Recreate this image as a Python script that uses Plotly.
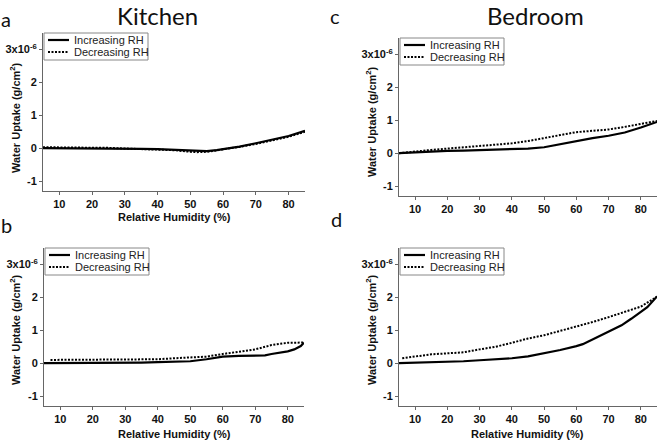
import plotly.graph_objects as go
from plotly.subplots import make_subplots

# dados (valores em unidades de 1e-6 g/cm2)
rh_a = [5, 10, 15, 20, 25, 30, 35, 40, 45, 50, 52, 55, 58, 60, 62, 65, 70, 75, 80, 85]
kitchen_a_inc = [0, 0, 0, 0, 0, -0.01, -0.02, -0.03, -0.05, -0.09, -0.1, -0.09, -0.06, -0.03, 0, 0.05, 0.15, 0.25, 0.37, 0.53]
kitchen_a_dec = [0.03, 0.03, 0.02, 0.02, 0.01, -0.01, -0.02, -0.03, -0.06, -0.11, -0.12, -0.11, -0.07, -0.04, -0.01, 0.04, 0.13, 0.23, 0.35, 0.5]

rh_b_inc = [5, 10, 15, 20, 25, 30, 35, 40, 45, 50, 55, 60, 65, 70, 73, 75, 78, 80, 82, 84, 85]
kitchen_b_inc = [0, 0, 0.01, 0.01, 0.01, 0.01, 0.02, 0.03, 0.04, 0.06, 0.12, 0.2, 0.22, 0.23, 0.24, 0.28, 0.32, 0.36, 0.42, 0.52, 0.62]
rh_b_dec = [7, 10, 15, 20, 25, 30, 35, 40, 45, 50, 55, 60, 65, 70, 75, 78, 80, 82, 84, 85]
kitchen_b_dec = [0.1, 0.1, 0.1, 0.1, 0.1, 0.1, 0.1, 0.12, 0.15, 0.18, 0.2, 0.28, 0.35, 0.42, 0.55, 0.6, 0.62, 0.62, 0.62, 0.63]

rh_c = [5, 10, 15, 20, 25, 30, 35, 40, 45, 50, 55, 60, 65, 70, 75, 80, 85]
bedroom_c_inc = [0, 0.03, 0.05, 0.07, 0.08, 0.09, 0.1, 0.12, 0.14, 0.18, 0.27, 0.38, 0.46, 0.53, 0.63, 0.78, 0.95]
bedroom_c_dec = [0, 0.06, 0.1, 0.14, 0.18, 0.21, 0.25, 0.3, 0.37, 0.45, 0.55, 0.64, 0.68, 0.72, 0.8, 0.88, 0.98]

rh_d_inc = [5, 10, 15, 20, 25, 30, 35, 40, 45, 50, 55, 60, 62, 65, 70, 74, 77, 80, 82, 85]
bedroom_d_inc = [0, 0.01, 0.02, 0.04, 0.06, 0.09, 0.12, 0.15, 0.21, 0.3, 0.4, 0.52, 0.58, 0.72, 0.96, 1.15, 1.35, 1.55, 1.7, 2.03]
rh_d_dec = [6, 10, 15, 20, 25, 30, 35, 40, 45, 50, 55, 60, 65, 70, 75, 80, 85]
bedroom_d_dec = [0.15, 0.2, 0.27, 0.3, 0.33, 0.42, 0.5, 0.62, 0.75, 0.85, 0.98, 1.12, 1.25, 1.4, 1.55, 1.72, 2.02]

y_ticks = [-1, 0, 1, 2, 3]
y_labels = ['-1', '0', '1', '2', '3x10<sup>-6</sup>']
x_ticks = [10, 20, 30, 40, 50, 60, 70, 80]
series_names = ['Increasing RH', 'Decreasing RH']

FONT = 'Liberation Sans, Arial, sans-serif'
TFONT = 'Lato, Open Sans, sans-serif'
GREY = '#666666'
W, H = 658, 442


def px(x):
    return x / W


def py(y):
    return 1 - y / H


fig = make_subplots(rows=2, cols=2)

# posições de cada painel em pixels: (esq, dir, topo, base)
boxes = {
    (1, 1): (43, 305, 33, 191),
    (1, 2): (399, 657, 38, 196),
    (2, 1): (44, 304, 248, 406),
    (2, 2): (399, 657, 248, 406),
}

panels = [
    (1, 1, rh_a, kitchen_a_inc, rh_a, kitchen_a_dec),
    (1, 2, rh_c, bedroom_c_inc, rh_c, bedroom_c_dec),
    (2, 1, rh_b_inc, kitchen_b_inc, rh_b_dec, kitchen_b_dec),
    (2, 2, rh_d_inc, bedroom_d_inc, rh_d_dec, bedroom_d_dec),
]

solid = dict(color='black', width=2.2)
dotted = dict(color='black', width=2, dash='2px,1.5px')

for r, c, xi, yi, xd, yd in panels:
    fig.add_trace(go.Scatter(x=xi, y=yi, mode='lines', name=series_names[0],
                             line=solid, showlegend=False), row=r, col=c)
    fig.add_trace(go.Scatter(x=xd, y=yd, mode='lines', name=series_names[1],
                             line=dotted, showlegend=False), row=r, col=c)
    x0, x1, y0, y1 = boxes[(r, c)]
    fig.update_xaxes(domain=[px(x0), px(x1)], range=[5, 85], tickvals=x_ticks,
                     showline=True, linecolor=GREY, linewidth=1,
                     ticks='outside', ticklen=3, tickcolor=GREY, showgrid=False,
                     zeroline=False,
                     tickfont=dict(family=FONT, size=11, color='#111', weight='bold'),
                     row=r, col=c)
    fig.update_yaxes(domain=[py(y1), py(y0)], range=[-1.3, 3.5], tickvals=y_ticks,
                     ticktext=y_labels,
                     showline=True, linecolor=GREY, linewidth=1,
                     ticks='outside', ticklen=3, tickcolor=GREY, showgrid=False,
                     zeroline=False,
                     tickfont=dict(family=FONT, size=11, color='#111', weight='bold'),
                     row=r, col=c)

    # legenda de cada painel (caixa no canto superior esquerdo)
    lx, ly = x0 + 1, y0
    fig.add_shape(type='rect', xref='paper', yref='paper',
                  x0=px(lx), x1=px(lx + 104), y0=py(ly), y1=py(ly + 27),
                  line=dict(color='#888', width=1), fillcolor='white')
    fig.add_shape(type='line', xref='paper', yref='paper',
                  x0=px(lx + 4), x1=px(lx + 25), y0=py(ly + 7), y1=py(ly + 7),
                  line=solid)
    fig.add_shape(type='line', xref='paper', yref='paper',
                  x0=px(lx + 4), x1=px(lx + 25), y0=py(ly + 19), y1=py(ly + 19),
                  line=dotted)
    for k, name in enumerate(series_names):
        fig.add_annotation(x=px(lx + 28), y=py(ly + 7 + 12 * k), xref='paper', yref='paper',
                           text=name, showarrow=False, xanchor='left', yanchor='middle',
                           font=dict(family=FONT, size=11, color='#222'))

fig.update_layout(
    width=W, height=H,
    margin=dict(l=0, r=0, t=0, b=0),
    plot_bgcolor='white', paper_bgcolor='white',
    showlegend=False,
)

# títulos no topo (ancorados em cima para não serem cortados)
for x, txt in [(157, 'Kitchen'), (535, 'Bedroom')]:
    fig.add_annotation(x=px(x), y=1, xref='paper', yref='paper', text=txt,
                       showarrow=False, xanchor='center', yanchor='top',
                       borderpad=0, font=dict(family=TFONT, size=24, color='#111'))

# letras dos painéis e títulos dos eixos
notes = [
    (6, 19, 'a', 20, TFONT, 'normal', 0),
    (335, 16, 'c', 20, TFONT, 'normal', 0),
    (6, 225, 'b', 20, TFONT, 'normal', 0),
    (336, 219, 'd', 20, TFONT, 'normal', 0),
    (174, 217, 'Relative Humidity (%)', 11, FONT, 'bold', 0),
    (174, 434, 'Relative Humidity (%)', 11, FONT, 'bold', 0),
    (527, 434, 'Relative Humidity (%)', 11, FONT, 'bold', 0),
    (15, 118, 'Water Uptake (g/cm<sup>2</sup>)', 11, FONT, 'bold', -90),
    (371, 122, 'Water Uptake (g/cm<sup>2</sup>)', 11, FONT, 'bold', -90),
    (15, 330, 'Water Uptake (g/cm<sup>2</sup>)', 11, FONT, 'bold', -90),
    (371, 330, 'Water Uptake (g/cm<sup>2</sup>)', 11, FONT, 'bold', -90),
]
for x, y, txt, size, fam, wt, ang in notes:
    fig.add_annotation(x=px(x), y=py(y), xref='paper', yref='paper',
                       text=txt, showarrow=False, textangle=ang,
                       xanchor='center', yanchor='middle',
                       font=dict(family=fam, size=size, color='#111', weight=wt))

# a página tem margem de 8px por padrão; zera para caber na janela
fig.write_html('out.html', config={'displayModeBar': False},
               post_script="document.body.style.margin='0';")
